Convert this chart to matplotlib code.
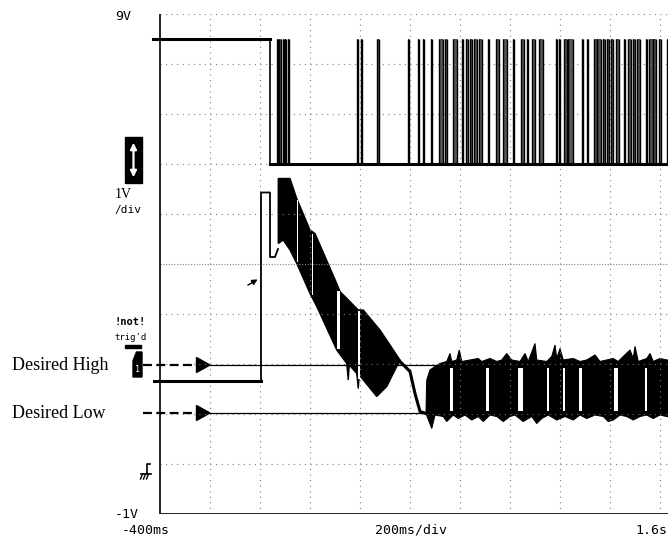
import numpy as np
import matplotlib.pyplot as plt
from matplotlib.patches import Rectangle, Polygon

# time in ms, voltage in V (scope: 200ms/div, 1V/div)
# upper digital trace: high level, low level, time it drops
up_high, up_low, up_drop = 8.5, 6.0, 40
up_start = -428
# pulses of the upper trace (start, end) in ms
pulse_start = [69, 77, 91, 101, 113, 388, 405, 468, 593, 631, 653, 684, 717, 740, 773,
               807, 824, 840, 856, 877, 913, 943, 973, 1011, 1043, 1067, 1087, 1117,
               1184, 1195, 1217, 1233, 1287, 1307, 1336, 1349, 1373, 1388, 1403, 1424,
               1456, 1473, 1493, 1508, 1544, 1557, 1573, 1597, 1627]
pulse_end = [72, 83, 96, 104, 117, 391, 409, 476, 596, 634, 656, 687, 731, 747, 789,
             813, 833, 847, 867, 887, 916, 957, 989, 1014, 1056, 1073, 1100, 1133,
             1187, 1198, 1227, 1253, 1290, 1310, 1347, 1365, 1380, 1395, 1413, 1435,
             1459, 1483, 1500, 1520, 1547, 1571, 1584, 1603, 1630]

# lower analog trace, before the oscillation starts
pre_t = [-426, 4, 4, 40, 40, 60, 72]
pre_v = [1.66, 1.66, 5.43, 5.43, 4.14, 4.14, 4.30]

# first oscillation band (decaying), top and bottom envelopes
b1_top_t = [73, 120, 147, 200, 220, 307, 320, 393, 413, 480, 560]
b1_top_v = [5.71, 5.71, 5.31, 4.68, 4.61, 3.61, 3.45, 3.08, 3.08, 2.68, 2.08]
b1_bot_t = [73, 93, 120, 147, 200, 227, 307, 347, 353, 357, 387, 393, 397, 467, 507, 547, 560]
b1_bot_v = [4.41, 4.48, 4.28, 4.01, 3.41, 3.15, 2.28, 2.01, 1.68, 1.98, 1.81, 1.51, 1.78,
            1.35, 1.55, 1.95, 2.05]

# single falling stretch between the two bands
mid_t = [560, 600, 620, 640, 664]
mid_v = [2.05, 1.85, 1.41, 1.05, 1.01]

# second band (noisy toggling between the desired levels)
b2_top_t = [664, 667, 680, 700, 720, 747, 760, 767, 787, 797, 807, 840, 873, 887, 920,
            947, 967, 987, 1007, 1040, 1060, 1073, 1100, 1107, 1147, 1167, 1180, 1187,
            1200, 1213, 1253, 1280, 1307, 1340, 1360, 1387, 1413, 1433, 1453, 1480,
            1493, 1500, 1513, 1547, 1560, 1573, 1600, 1627, 1640]
b2_top_v = [1.01, 1.68, 1.88, 1.95, 2.01, 2.05, 2.21, 2.05, 2.08, 2.28, 2.05, 2.08, 2.11,
            2.05, 2.11, 2.05, 2.08, 2.21, 2.08, 2.05, 2.21, 2.05, 2.41, 2.08, 2.05, 2.15,
            2.38, 2.11, 2.31, 2.08, 2.11, 2.05, 2.08, 2.18, 2.05, 2.08, 2.11, 2.05, 2.15,
            2.28, 2.11, 2.35, 2.05, 2.11, 2.21, 2.05, 2.11, 2.08, 2.08]
b2_bot_t = [664, 687, 700, 733, 747, 773, 793, 820, 847, 873, 893, 920, 947, 973, 1000,
            1020, 1053, 1087, 1107, 1127, 1153, 1187, 1220, 1253, 1280, 1307, 1340, 1373,
            1393, 1413, 1440, 1467, 1493, 1520, 1547, 1573, 1600, 1627, 1640]
b2_bot_v = [1.01, 0.71, 0.98, 0.95, 0.85, 0.98, 0.91, 0.98, 0.88, 0.95, 0.85, 0.98, 0.95,
            0.85, 0.95, 0.98, 0.85, 0.95, 0.81, 0.91, 0.98, 0.88, 0.95, 0.88, 0.98, 0.91,
            0.98, 0.95, 0.85, 0.88, 0.98, 0.95, 0.88, 0.95, 0.98, 0.91, 0.98, 0.95, 0.95]

# white gaps inside the bands (t0, t1, v_low, v_high)
gap_t0 = [147, 207, 309, 393, 760, 904, 1033, 1147, 1211, 1277, 1416, 1540]
gap_t1 = [152, 212, 319, 399, 771, 917, 1053, 1155, 1221, 1287, 1432, 1549]
gap_lo = [4.05, 3.38, 2.30, 1.70, 1.06, 1.06, 1.06, 1.06, 1.06, 1.06, 1.06, 1.06]
gap_hi = [5.28, 4.60, 3.46, 3.06, 1.93, 1.93, 1.93, 1.93, 1.93, 1.93, 1.93, 1.93]

desired_high, desired_low = 1.98, 1.02

fig = plt.figure(figsize=(6.68, 5.38), dpi=100)
ax = fig.add_axes([150/668, 24/538, 518/668, 500/538])
ax.set_xlim(-440, 1632)
ax.set_ylim(-1, 9)
ax.axis('off')

# graticule
gc = '#808080'
for v in range(0, 10):
    if v == 4:
        ax.hlines(v, -400, 1632, colors=gc, lw=0.8, linestyles=(0, (1, 1.5)))
    else:
        ax.hlines(v, -400, 1632, colors=gc, lw=0.8, linestyles=(0, (1, 4)))
for t in range(-200, 1700, 200):
    ax.vlines(t, -1, 9, colors=gc, lw=0.8, linestyles=(0, (1, 4)))
ax.vlines(-400, -1, 9, colors='black', lw=1.2)
ax.hlines(-1, -400, 1632, colors='black', lw=1.2)

# upper trace
ax.plot([up_start, up_drop], [up_high, up_high], color='black', lw=2.2, clip_on=False)
ax.plot([up_drop, up_drop], [up_high, up_low], color='black', lw=1.2)
ax.plot([up_drop, 1632], [up_low, up_low], color='black', lw=2.2)
for a, b in zip(pulse_start, pulse_end):
    ax.fill_between([a, b], up_low, up_high, color='#555555', lw=0)
    ax.vlines([a, b], up_low, up_high, colors='black', lw=1.0)

# desired levels
for lvl in [desired_high, desired_low]:
    ax.plot([-468, -252], [lvl, lvl], color='black', lw=1.6, ls=(0, (4, 2)), clip_on=False)
    ax.add_patch(Polygon([[-254, lvl + 0.15], [-254, lvl - 0.15], [-200, lvl]],
                         closed=True, color='black', clip_on=False))
    ax.plot([-200, 1632], [lvl, lvl], color='black', lw=0.9)

# lower trace
ax.plot(pre_t[:2], pre_v[:2], color='black', lw=2.2, clip_on=False)
ax.plot(pre_t[1:], pre_v[1:], color='black', lw=1.3)
ax.fill(b1_top_t + b1_bot_t[::-1], b1_top_v + b1_bot_v[::-1], color='black', lw=1)
ax.plot(mid_t, mid_v, color='black', lw=2.2)
ax.fill(b2_top_t + b2_bot_t[::-1], b2_top_v + b2_bot_v[::-1], color='black', lw=0.8)
for a, b, lo, hi in zip(gap_t0, gap_t1, gap_lo, gap_hi):
    ax.fill_between([a, b], lo, hi, color='white', lw=0)

# arrow pointing at the rising edge
ax.annotate('', xy=(0, 3.72), xytext=(-58, 3.55),
            arrowprops=dict(arrowstyle='-|>', color='black', lw=1.0, mutation_scale=8))

# scope annotations
mono = 'DejaVu Sans Mono'
ax.text(-580, 8.94, '9V', fontsize=9.5, family=mono, ha='left', va='center', clip_on=False)
ax.text(-580, 5.39, '1V', fontsize=10, family='Liberation Serif', ha='left', va='center')
ax.text(-582, 5.08, '/div', fontsize=8, family=mono, ha='left', va='center')
ax.text(-580, -1.02, '-1V', fontsize=9.5, family=mono, ha='left', va='center')
ax.text(-456, -1.32, '-400ms', fontsize=9.5, family=mono, ha='center', va='center')
ax.text(604, -1.32, '200ms/div', fontsize=9.5, family=mono, ha='center', va='center')
ax.text(1628, -1.32, '1.6s', fontsize=9.5, family=mono, ha='right', va='center')
ax.text(-581, 2.84, '!not!', fontsize=7.5, family=mono, weight='bold', ha='left', va='center')
ax.text(-581, 2.53, "trig'd", fontsize=6.5, family=mono, ha='left', va='center')
ax.add_patch(Rectangle((-540, 2.33), 62, 0.05, color='black', clip_on=False))

# volts/div box with double arrow
ax.add_patch(Rectangle((-540, 5.62), 68, 0.92, color='black', clip_on=False))
ax.annotate('', xy=(-506, 6.48), xytext=(-506, 5.68),
            arrowprops=dict(arrowstyle='<|-|>', color='white', lw=1.6, mutation_scale=9),
            annotation_clip=False)

# trigger marker
ax.add_patch(Polygon([[-508, 1.74], [-472, 1.74], [-472, 2.24], [-494, 2.24], [-508, 2.06]],
                     closed=True, color='black', clip_on=False))
ax.text(-489, 1.9, '1', fontsize=6, family=mono, color='white', ha='center', va='center')

# ground symbol
ax.plot([-476, -438], [-0.2, -0.2], color='black', lw=1.2, clip_on=False)
for g in [-470, -458, -446]:
    ax.plot([g, g - 8], [-0.2, -0.3], color='black', lw=1.0, clip_on=False)
ax.plot([-452, -452, -440], [-0.2, 0.0, 0.0], color='black', lw=1.2, clip_on=False)

# labels for the desired levels
ax.text(-992, desired_high, 'Desired High', fontsize=13, family='Liberation Serif',
        ha='left', va='center')
ax.text(-992, desired_low, 'Desired Low', fontsize=13, family='Liberation Serif',
        ha='left', va='center')

fig.savefig('out.png', dpi=100)
